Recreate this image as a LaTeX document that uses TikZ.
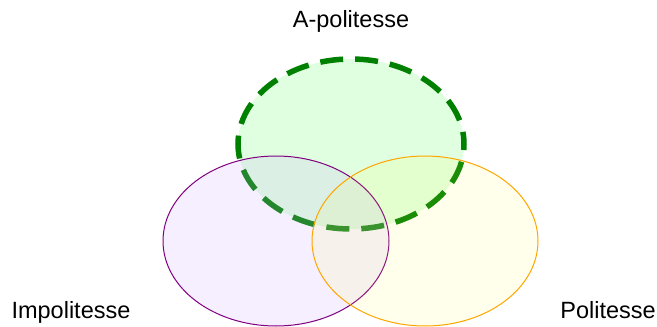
\documentclass[tikz,border=0pt]{standalone}
\usepackage{fontspec}
\setmainfont{Liberation Sans}
\definecolor{agreen}{HTML}{008000}
\definecolor{agreenfill}{HTML}{E0FFE0}
\definecolor{impurple}{HTML}{800080}
\definecolor{impfill}{HTML}{C8A8FF}
\definecolor{polorange}{HTML}{FFA500}
\definecolor{polfill}{HTML}{FFFF37}
\begin{document}
\begin{tikzpicture}[x=1pt,y=-1pt,
  label/.style={font=\fontsize{23.5}{28}\selectfont, anchor=base, inner sep=0pt},
  aset/.style={draw=agreen, fill=agreenfill, line width=5.5pt, dash pattern=on 23pt off 12pt, dash phase=17pt},
  impset/.style={draw=impurple, line width=1pt, fill=impfill, fill opacity=0.18},
  polset/.style={draw=polorange, line width=1pt, fill=polfill, fill opacity=0.1}]
  \useasboundingbox (0,0) rectangle (657,327);
  % the three sets
  \draw[aset] (351,144) ellipse [x radius=113, y radius=85];
  \draw[impset] (276,241) ellipse [x radius=113, y radius=85];
  \draw[polset] (425,241) ellipse [x radius=113, y radius=85];
  % set names
  \node[label] (apol) at (351,27) {A-politesse};
  \node[label] (impol) at (71,318) {Impolitesse};
  \node[label] (pol) at (608,318) {Politesse};
\end{tikzpicture}
\end{document}
